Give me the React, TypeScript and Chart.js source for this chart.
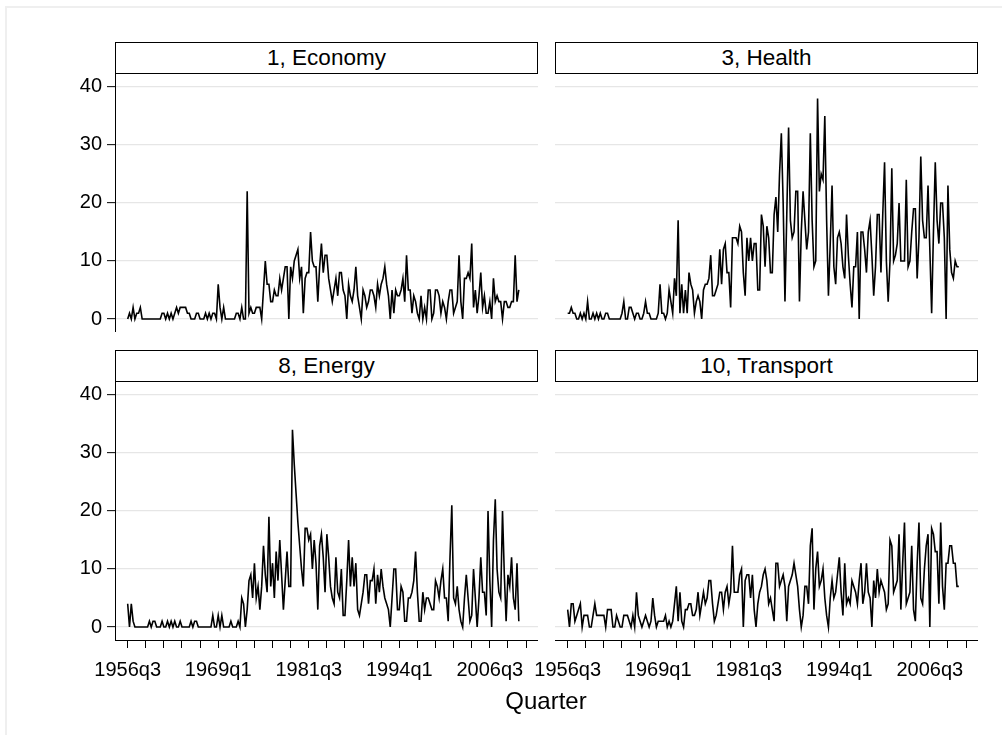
import React, { useEffect, useRef } from 'react';
import { Chart, registerables } from 'chart.js';

Chart.register(...registerables);

const FONT = '"Liberation Sans", Arial, Helvetica, sans-serif';

// Panel titles
const panelTitles = ['1, Economy', '3, Health', '8, Energy', '10, Transport'];

// Axis ticks
const yTickValues = [0, 10, 20, 30, 40];
// x = quarters since 1956q3
const xTickValues = [0, 10, 20, 30, 40, 50, 60, 70, 80, 90, 100, 110, 120, 130, 140, 150, 160, 170, 180, 190, 200, 210, 220];
const xLabelValues = [0, 50, 100, 150, 200];
const xTickLabels = ['1956q3', '1969q1', '1981q3', '1994q1', '2006q3'];
const xAxisTitle = 'Quarter';

// Series values: one value per quarter starting 1956q3
const economy = [
  0, 1, 0, 2, 0, 1, 1, 2, 0, 0,
  0, 0, 0, 0, 0, 0, 0, 0, 0, 1,
  1, 0, 1, 0, 1, 0, 1, 2, 1, 2,
  2, 2, 2, 1, 1, 0, 0, 0, 1, 1,
  0, 0, 0, 1, 0, 1, 0, 1, 1, 0,
  6, 2, 0, 2, 0, 0, 0, 0, 0, 0,
  1, 1, 0, 2, 0, 0, 22, 1, 2, 1,
  1, 2, 2, 2, 0, 5, 10, 6, 6, 3,
  3, 5, 4, 4, 7, 5, 7, 9, 9, 0,
  9, 7, 10, 11, 12, 7, 9, 1, 7, 8,
  8, 15, 10, 9, 9, 3, 9, 13, 8, 11,
  11, 7, 5, 3, 5, 7, 4, 8, 8, 5,
  4, 0, 6, 4, 3, 5, 9, 4, 2, 0,
  5, 4, 2, 3, 5, 5, 4, 2, 6, 4,
  6, 7, 9, 6, 4, 0, 5, 1, 5, 4,
  4, 5, 7, 3, 11, 5, 5, 1, 4, 3,
  1, 0, 4, 0, 2, 0, 5, 5, 0, 1,
  5, 5, 4, 1, 3, 2, 0, 3, 5, 5,
  1, 2, 3, 11, 3, 0, 7, 7, 8, 7,
  13, 2, 5, 1, 4, 8, 2, 4, 1, 1,
  3, 0, 7, 3, 4, 3, 3, 0, 3, 3,
  2, 2, 3, 3, 11, 3, 5,
];

const health = [
  1, 1, 2, 1, 1, 0, 0, 1, 0, 1,
  0, 3, 0, 0, 1, 0, 1, 0, 1, 0,
  0, 1, 1, 0, 0, 0, 0, 0, 0, 0,
  1, 3, 0, 0, 2, 2, 1, 0, 1, 1,
  0, 0, 1, 3, 1, 1, 0, 0, 0, 0,
  1, 6, 1, 1, 0, 1, 5, 3, 1, 7,
  4, 17, 1, 6, 1, 5, 1, 8, 6, 5,
  1, 3, 4, 3, 0, 5, 6, 6, 7, 11,
  4, 4, 5, 6, 12, 6, 12, 13, 8, 8,
  2, 14, 14, 14, 13, 16, 15, 8, 4, 14,
  10, 14, 10, 13, 13, 5, 5, 18, 16, 9,
  16, 14, 8, 8, 18, 21, 15, 25, 32, 20,
  3, 18, 33, 17, 14, 15, 22, 22, 3, 15,
  22, 17, 12, 15, 32, 17, 9, 10, 38, 22,
  25, 24, 35, 17, 4, 13, 23, 9, 6, 14,
  15, 13, 9, 7, 18, 11, 6, 2, 9, 9,
  15, 0, 15, 15, 12, 8, 15, 17, 11, 4,
  9, 18, 18, 8, 18, 27, 10, 3, 10, 26,
  10, 11, 13, 20, 10, 10, 10, 24, 9, 10,
  15, 19, 19, 7, 14, 28, 17, 14, 14, 23,
  12, 1, 15, 27, 17, 13, 20, 20, 14, 0,
  23, 12, 8, 7, 10, 9, 9,
];

const energy = [
  4, 0, 4, 1, 0, 0, 0, 0, 0, 0,
  0, 0, 1, 0, 1, 1, 0, 0, 0, 1,
  0, 0, 1, 0, 1, 0, 1, 0, 0, 1,
  0, 0, 0, 0, 0, 1, 0, 1, 1, 0,
  0, 0, 0, 0, 0, 0, 0, 2, 0, 0,
  2, 0, 2, 0, 0, 0, 0, 1, 0, 0,
  0, 1, 0, 5, 4, 0, 3, 8, 9, 5,
  11, 5, 7, 3, 7, 14, 9, 6, 19, 7,
  11, 5, 13, 8, 15, 9, 3, 8, 13, 7,
  7, 34, 28, 23, 18, 14, 10, 7, 17, 17,
  15, 16, 10, 15, 11, 3, 14, 16, 12, 6,
  16, 12, 7, 5, 4, 12, 6, 5, 10, 2,
  2, 8, 15, 7, 12, 7, 11, 3, 2, 4,
  6, 9, 9, 4, 8, 8, 10, 4, 9, 6,
  10, 7, 5, 4, 3, 0, 5, 10, 10, 3,
  3, 7, 6, 1, 1, 5, 5, 6, 8, 13,
  6, 1, 1, 6, 3, 5, 5, 4, 3, 3,
  8, 7, 5, 8, 10, 5, 5, 1, 12, 21,
  5, 4, 7, 3, 1, 0, 5, 9, 5, 1,
  2, 10, 5, 0, 5, 12, 6, 6, 2, 20,
  8, 0, 15, 22, 10, 6, 5, 20, 9, 1,
  9, 7, 12, 5, 3, 11, 1,
];

const transport = [
  3, 0, 4, 4, 1, 2, 3, 4, 0, 2,
  2, 2, 0, 0, 2, 4, 2, 2, 2, 2,
  2, 0, 3, 3, 3, 0, 0, 2, 1, 0,
  0, 2, 2, 2, 1, 0, 2, 0, 6, 2,
  1, 0, 1, 2, 1, 0, 1, 5, 2, 0,
  1, 1, 1, 1, 2, 0, 1, 0, 1, 4,
  7, 1, 6, 1, 0, 3, 3, 4, 4, 2,
  2, 3, 6, 2, 4, 6, 4, 5, 8, 8,
  4, 1, 2, 4, 6, 6, 3, 6, 7, 4,
  6, 14, 6, 6, 6, 9, 10, 0, 8, 9,
  9, 5, 9, 3, 0, 4, 6, 7, 9, 10,
  8, 4, 5, 3, 1, 11, 11, 7, 8, 9,
  7, 1, 7, 8, 9, 11, 9, 7, 3, 0,
  2, 7, 7, 4, 14, 17, 3, 10, 13, 7,
  8, 10, 5, 2, 0, 5, 8, 5, 6, 9,
  12, 6, 2, 11, 4, 5, 4, 8, 7, 6,
  4, 8, 11, 4, 6, 11, 6, 5, 0, 8,
  5, 10, 6, 8, 7, 6, 3, 4, 15, 14,
  6, 7, 8, 16, 3, 11, 18, 4, 5, 6,
  14, 3, 1, 11, 18, 5, 4, 10, 14, 16,
  0, 17, 16, 13, 13, 4, 18, 7, 3, 11,
  11, 14, 14, 11, 11, 7, 7,
];

const seriesList = [economy, health, energy, transport];

type PanelSpec = { left: boolean; bottom: boolean };
const panelSpecs: PanelSpec[] = [
  { left: true, bottom: false },
  { left: false, bottom: false },
  { left: true, bottom: true },
  { left: false, bottom: true },
];

function makeConfig(values: number[], spec: PanelSpec): any {
  return {
    type: 'line',
    data: {
      datasets: [
        {
          data: values.map((v, i) => ({ x: i, y: v })),
          borderColor: '#000',
          borderWidth: 1.6,
          pointRadius: 0,
          tension: 0,
          fill: false,
        },
      ],
    },
    options: {
      animation: false,
      responsive: false,
      maintainAspectRatio: false,
      devicePixelRatio: 1,
      events: [],
      layout: { padding: 0 },
      plugins: { legend: { display: false }, tooltip: { enabled: false }, title: { display: false } },
      scales: {
        x: {
          type: 'linear',
          min: -7,
          max: 226.6,
          display: spec.bottom,
          afterBuildTicks: (s: any) => {
            s.ticks = xTickValues.map((v) => ({ value: v }));
          },
          afterFit: (s: any) => {
            s.height = spec.bottom ? 52 : 0;
            s.paddingLeft = 0;
            s.paddingRight = 0;
          },
          grid: { drawOnChartArea: false, drawTicks: true, tickLength: 8, tickColor: '#000', tickWidth: 1 },
          border: { display: true, color: '#000', width: 1 },
          ticks: {
            autoSkip: false,
            maxRotation: 0,
            minRotation: 0,
            padding: 10,
            color: '#000',
            font: { family: FONT, size: 20 },
            callback: (v: any) => {
              const k = xLabelValues.indexOf(Number(v));
              return k >= 0 ? xTickLabels[k] : '';
            },
          },
        },
        y: {
          type: 'linear',
          min: -2.24,
          max: 42.4,
          afterBuildTicks: (s: any) => {
            s.ticks = yTickValues.map((v) => ({ value: v }));
          },
          afterFit: (s: any) => {
            s.width = spec.left ? 75 : 35;
            s.paddingTop = 0;
            s.paddingBottom = 0;
          },
          grid: {
            color: '#e6e6e6',
            lineWidth: 1.3,
            drawTicks: spec.left,
            tickLength: 8,
            tickColor: '#000',
            tickWidth: 1,
          },
          border: { display: spec.left, color: '#000', width: 1 },
          ticks: {
            display: spec.left,
            padding: 5,
            color: '#000',
            font: { family: FONT, size: 20 },
          },
        },
      },
    },
  };
}

const canvasPos = [
  { left: 40, top: 73, width: 498, height: 259 },
  { left: 520, top: 73, width: 458, height: 259 },
  { left: 40, top: 381, width: 498, height: 311 },
  { left: 520, top: 381, width: 458, height: 311 },
];
const headerPos = [
  { left: 115, top: 42 },
  { left: 555, top: 42 },
  { left: 115, top: 350 },
  { left: 555, top: 350 },
];

export default function App() {
  const refs = [useRef<HTMLCanvasElement>(null), useRef<HTMLCanvasElement>(null), useRef<HTMLCanvasElement>(null), useRef<HTMLCanvasElement>(null)];

  useEffect(() => {
    const charts: Chart[] = [];
    refs.forEach((r, k) => {
      if (r.current) {
        charts.push(new Chart(r.current, makeConfig(seriesList[k], panelSpecs[k])));
      }
    });
    return () => {
      charts.forEach((c) => c.destroy());
    };
  }, []);

  return (
    <div
      style={{
        position: 'absolute',
        left: 0,
        top: 0,
        width: 1002,
        height: 735,
        background: '#fff',
        overflow: 'hidden',
        fontFamily: FONT,
      }}
    >
      <div
        style={{
          position: 'absolute',
          left: 5,
          top: 6,
          right: -10,
          bottom: -10,
          borderLeft: '2px solid #efefef',
          borderTop: '2px solid #efefef',
        }}
      />
      {headerPos.map((p, k) => (
        <div
          key={'h' + k}
          style={{
            position: 'absolute',
            left: p.left,
            top: p.top,
            width: 423,
            height: 32,
            boxSizing: 'border-box',
            border: '1px solid #000',
            display: 'flex',
            alignItems: 'center',
            justifyContent: 'center',
            fontSize: 22.5,
            color: '#000',
            background: '#fff',
          }}
        >
          {panelTitles[k]}
        </div>
      ))}
      {canvasPos.map((p, k) => (
        <canvas
          key={'c' + k}
          ref={refs[k]}
          width={p.width}
          height={p.height}
          style={{ position: 'absolute', left: p.left, top: p.top, width: p.width, height: p.height }}
        />
      ))}
      <div
        style={{
          position: 'absolute',
          left: 446,
          width: 200,
          top: 688,
          textAlign: 'center',
          fontSize: 24,
          lineHeight: '25px',
          color: '#000',
        }}
      >
        {xAxisTitle}
      </div>
    </div>
  );
}
